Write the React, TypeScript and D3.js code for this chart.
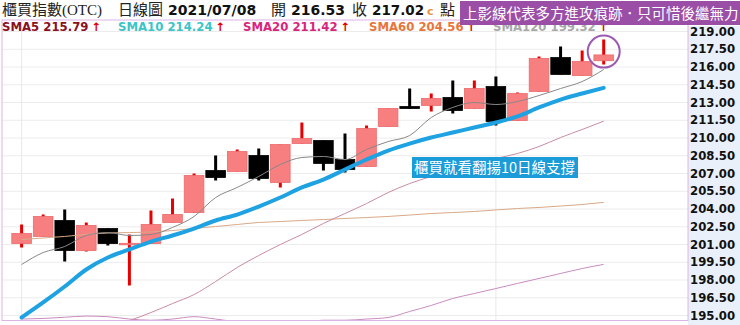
import React from "react";
import * as d3 from "d3";

const dates = [
  "2021/05/31", "2021/06/01", "2021/06/02", "2021/06/03", "2021/06/04", "2021/06/07", "2021/06/08",
  "2021/06/09", "2021/06/10", "2021/06/11", "2021/06/15", "2021/06/16", "2021/06/17", "2021/06/18",
  "2021/06/21", "2021/06/22", "2021/06/23", "2021/06/24", "2021/06/25", "2021/06/28", "2021/06/29",
  "2021/06/30", "2021/07/01", "2021/07/02", "2021/07/05", "2021/07/06", "2021/07/07", "2021/07/08",
];
const opens = [201.08, 201.68, 203.03, 200.49, 202.35, 200.98, 201.08, 202.86, 203.7, 207.25, 207.17, 208.52, 206.24, 209.54,
  209.79, 208.18, 207.59, 210.97, 212.66, 212.75, 213.42, 212.49, 214.35, 211.48, 213.93, 216.8, 215.28, 216.53];
const highs = [202.69, 203.54, 203.96, 202.86, 202.35, 201.85, 203.87, 204.89, 207.0, 208.52, 209.03, 209.11, 209.45, 211.31,
  209.79, 210.38, 211.06, 212.49, 214.18, 213.76, 214.86, 214.86, 215.2, 213.85, 216.89, 217.73, 217.39, 218.32];
const lows = [200.75, 201.68, 199.56, 200.4, 200.92, 197.54, 201.08, 202.86, 203.7, 206.41, 207.17, 206.41, 205.82, 209.54,
  207.25, 207.08, 207.59, 210.97, 212.49, 212.24, 212.07, 212.49, 211.06, 211.48, 213.93, 215.37, 215.28, 216.21];
const closes = [201.93, 203.37, 200.49, 202.61, 201.08, 201.1, 202.69, 203.54, 206.83, 206.66, 208.86, 206.58, 209.45, 209.96,
  207.85, 207.34, 210.8, 212.49, 212.49, 213.34, 212.32, 214.18, 211.39, 213.76, 216.72, 215.37, 216.46, 217.02];

const sma5 = [199.31, 200.32, 200.83, 201.76, 202.01, 201.76, 201.84, 202.44, 203.37, 204.97, 205.82, 206.75, 207.76, 208.35,
  208.44, 208.18, 209.03, 209.7, 210.21, 211.73, 212.58, 213.0, 212.83, 213.08, 213.59, 214.18, 214.77, 215.79];
const sma10 = [194.83, 196.1, 197.45, 198.89, 199.9, 200.58, 201.25, 201.76, 202.35, 203.03, 203.53, 204.21, 204.97, 205.82,
  206.49, 207.34, 208.18, 208.94, 209.53, 210.04, 210.46, 210.89, 211.31, 211.82, 212.58, 213.25, 213.76, 214.24];
const sma20 = [192.2, 192.7, 193.2, 193.7, 194.15, 194.58, 195.25, 196.01, 196.77, 197.87, 199.06, 200.07, 201.0, 201.85,
  202.78, 203.62, 204.46, 205.39, 206.15, 206.75, 207.34, 207.85, 208.27, 208.69, 209.28, 210.04, 210.72, 211.42];
const sma60 = [201.42, 201.55, 201.68, 201.85, 201.97, 202.01, 202.06, 202.18, 202.35, 202.52, 202.69, 202.86, 202.94, 203.03,
  203.11, 203.2, 203.28, 203.37, 203.49, 203.62, 203.7, 203.79, 203.92, 204.04, 204.13, 204.25, 204.38, 204.56];
const sma120 = [194.7, 194.75, 194.85, 194.95, 194.9, 194.7, 194.6, 194.7, 194.9, 194.7, 194.5, 194.5, 194.5, 194.5,
  194.6, 194.6, 194.7, 194.83, 195.34, 195.85, 196.44, 196.86, 197.28, 197.71, 198.13, 198.55, 198.97, 199.32];

const yTicks = [195, 196.5, 198, 199.5, 201, 202.5, 204, 205.5, 207, 208.5, 210, 211.5, 213, 214.5, 216, 217.5, 219];
const monthLines = ["2021/05/31", "2021/07/01"];

const smaLabels = [
  { name: "SMA5", value: "215.79", color: "#8b1020" },
  { name: "SMA10", value: "214.24", color: "#3cc4c8" },
  { name: "SMA20", value: "211.42", color: "#d8247c" },
  { name: "SMA60", value: "204.56", color: "#e8763a" },
  { name: "SMA120", value: "199.32", color: "#a8a8a8" },
];
const smaLabelX = [2, 118, 243, 369, 493];

const titleText = "櫃買指數(OTC)";
const chartType = "日線圖";
const lastDate = "2021/07/08";
const openLabel = "開";
const openValue = "216.53";
const closeLabel = "收";
const closeValue = "217.02";
const unitText = "點";
const noteTop = "上影線代表多方進攻痕跡．只可惜後繼無力";
const noteMid = "櫃買就看翻揚10日線支撐";

const LATIN = "'DejaVu Sans', Verdana, sans-serif";
const CJK = "'Noto Sans CJK TC', 'Noto Sans CJK SC', sans-serif";
const SERIF = "'Liberation Serif', 'Noto Sans CJK TC', serif";

export default function App() {
  const W = 740, H = 325;
  const pL = 2, pR = 688, pT = 20, pB = 320.5;
  const n = dates.length;
  const x = d3.scaleLinear().domain([0, n - 1]).range([21.6, 603.7]);
  const y = d3.scaleLinear().domain([195, 219]).range([315.5, 31.5]);
  const step = x(1) - x(0);
  const bw = step * 0.91;
  const mk = (vals: number[]) =>
    d3.line<number>().x((_, i) => x(i)).y((v) => y(v)).curve(d3.curveMonotoneX)(vals) || "";

  return (
    <svg width={W} height={H} style={{ position: "fixed", left: 0, top: 0, background: "#fff" }}>
      <defs>
        <clipPath id="plot">
          <rect x={pL} y={pT} width={pR - pL} height={pB - pT} />
        </clipPath>
      </defs>
      <rect x={0} y={0} width={W} height={H} fill="#fff" />
      {/* y axis panel */}
      <rect x={pR} y={26} width={W - pR} height={H - 26} fill="#e9f0fa" />
      {/* grid */}
      {yTicks.map((t) => (
        <line key={t} x1={pL} x2={pR} y1={y(t)} y2={y(t)} stroke="#ececec" strokeWidth={1} />
      ))}
      {monthLines.map((d) => {
        const i = dates.indexOf(d);
        return <line key={d} x1={x(i)} x2={x(i)} y1={pT} y2={pB} stroke="#e8e8e8" strokeWidth={1} />;
      })}
      {/* candles */}
      <g clipPath="url(#plot)">
        {dates.map((d, i) => {
          const up = closes[i] >= opens[i];
          const top = y(Math.max(opens[i], closes[i]));
          const bot = y(Math.min(opens[i], closes[i]));
          const cx = x(i);
          return (
            <g key={d}>
              <line x1={cx} x2={cx} y1={y(highs[i])} y2={y(lows[i])} stroke={up ? "#e80000" : "#000"} strokeWidth={3} />
              <rect
                x={cx - bw / 2}
                y={top}
                width={bw}
                height={Math.max(bot - top, 1.5)}
                fill={up ? "#f77f80" : "#000"}
                stroke={up ? "#ec6a6c" : "#000"}
                strokeWidth={0.8}
              />
            </g>
          );
        })}
        <path d={mk(sma120)} fill="none" stroke="#c98cc0" strokeWidth={1} />
        <path d={mk(sma60)} fill="none" stroke="#d8a988" strokeWidth={1} />
        <path d={mk(sma20)} fill="none" stroke="#c98ba6" strokeWidth={1} />
        <path d={mk(sma5)} fill="none" stroke="#888" strokeWidth={1} />
        <path d={mk(sma10)} fill="none" stroke="#1ea2e2" strokeWidth={4} strokeLinecap="round" />
      </g>
      {/* frame */}
      <rect x={pL} y={pT} width={pR - pL} height={pB - pT} fill="none" stroke="#dcb4e4" strokeWidth={1} />
      {/* y axis labels */}
      {yTicks.map((t) => (
        <text key={t} x={690} y={y(t)} dy="0.36em" fontFamily={LATIN} fontWeight="bold" fontSize={11.7} fill="#111">
          {t.toFixed(2)}
        </text>
      ))}
      {/* header row 1 */}
      <text x={2} y={15} fontFamily={SERIF} fontSize={15} fill="#222">{titleText}</text>
      <text x={118} y={15} fontFamily={SERIF} fontSize={15} fill="#222">{chartType}</text>
      <text x={168} y={15} fontFamily={LATIN} fontWeight="bold" fontSize={14} fill="#111">{lastDate}</text>
      <text x={271} y={15} fontFamily={SERIF} fontSize={15} fill="#222">{openLabel}</text>
      <text x={291} y={15} fontFamily={LATIN} fontWeight="bold" fontSize={14} fill="#111">{openValue}</text>
      <text x={352} y={15} fontFamily={SERIF} fontSize={15} fill="#222">{closeLabel}</text>
      <text x={372} y={15} fontFamily={LATIN} fontWeight="bold" fontSize={13.5} fill="#111">{closeValue}</text>
      <text x={427} y={15} fontFamily={LATIN} fontWeight="bold" fontSize={11} fill="#e8963a">c</text>
      <text x={440} y={15} fontFamily={SERIF} fontSize={15} fill="#222">{unitText}</text>
      {/* SMA labels */}
      {smaLabels.map((s, i) => (
        <text key={s.name} x={smaLabelX[i]} y={30.7} fontFamily={LATIN} fontWeight="bold" fontSize={11.7} fill={s.color}>
          {s.name} {s.value}
          <tspan fill="#e00000" dx={3}>↑</tspan>
        </text>
      ))}
      {/* top annotation */}
      <rect x={460} y={1} width={W - 460} height={24} fill="#9b4ea6" />
      <text x={463} y={19} fontFamily={CJK} fontSize={14.5} fill="#fff">{noteTop}</text>
      {/* circle */}
      <circle cx={x(n - 1)} cy={y(217.3)} r={16} fill="none" stroke="#9b59b0" strokeWidth={2} />
      {/* mid annotation */}
      <rect x={412} y={157} width={166} height={21} fill="#1b9bd8" />
      <text x={414} y={173} fontFamily={CJK} fontSize={14.5} fill="#fff">{noteMid}</text>
    </svg>
  );
}
